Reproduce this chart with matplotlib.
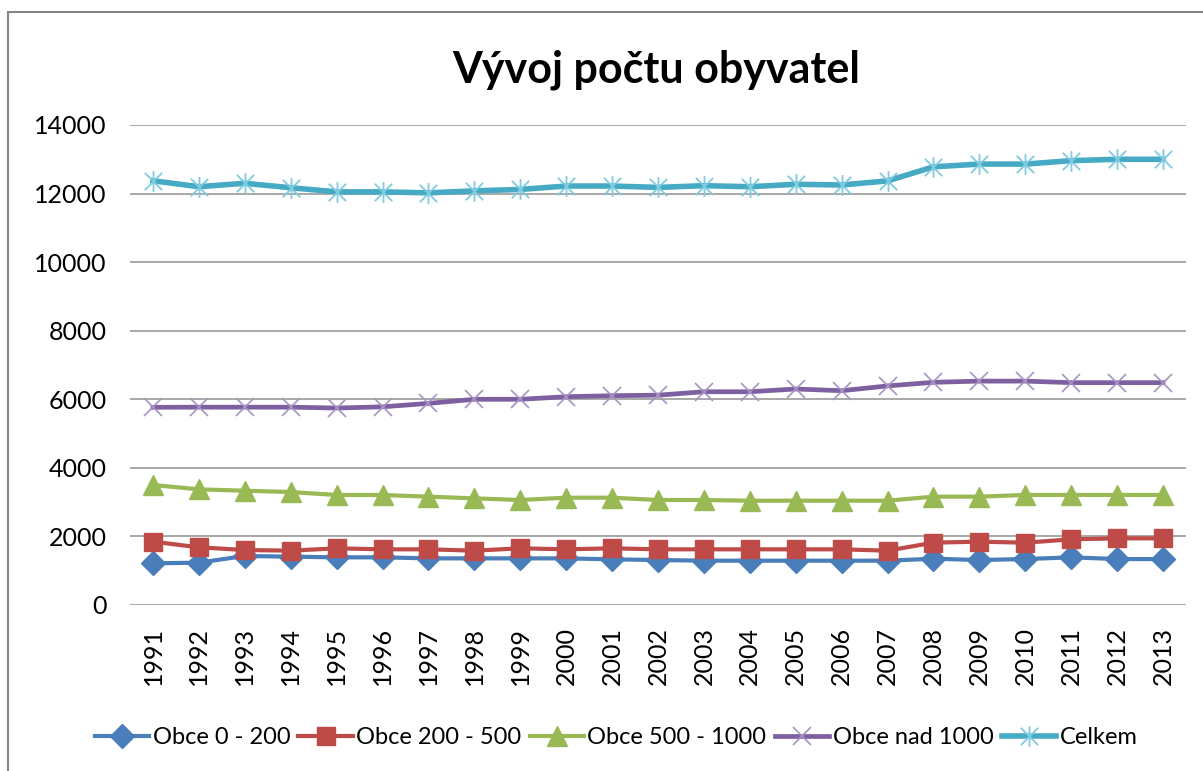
import numpy as np
import matplotlib
matplotlib.use("Agg")
import matplotlib.pyplot as plt
from matplotlib.path import Path
from matplotlib.patches import Rectangle

plt.rcParams['font.family'] = ['Lato', 'DejaVu Sans']

years = [str(y) for y in range(1991, 2014)]

obce_0_200 = [1215, 1235, 1430, 1410, 1390, 1390, 1360, 1360, 1360, 1360, 1332, 1312,
              1293, 1293, 1293, 1293, 1293, 1350, 1312, 1340, 1390, 1340, 1340]
obce_200_500 = [1847, 1682, 1604, 1585, 1653, 1624, 1624, 1585, 1653, 1624, 1653, 1624,
                1624, 1624, 1624, 1624, 1585, 1818, 1847, 1818, 1915, 1944, 1944]
obce_500_1000 = [3500, 3374, 3333, 3295, 3208, 3208, 3160, 3110, 3062, 3130, 3130, 3062,
                 3062, 3042, 3042, 3042, 3042, 3160, 3160, 3210, 3210, 3210, 3210]
obce_nad_1000 = [5766, 5770, 5770, 5770, 5745, 5780, 5880, 6000, 6000, 6075, 6105, 6120,
                 6220, 6220, 6300, 6250, 6390, 6495, 6530, 6530, 6485, 6485, 6485]
celkem = [12374, 12200, 12300, 12170, 12050, 12050, 12020, 12080, 12120, 12220, 12220, 12180,
          12230, 12200, 12270, 12250, 12370, 12780, 12860, 12860, 12960, 13000, 13000]

labels = ["Obce 0 - 200", "Obce 200 - 500", "Obce 500 - 1000", "Obce nad 1000", "Celkem"]

# excel style star marker: an x with a vertical bar through it
star = Path([(-1, -1), (1, 1), (-1, 1), (1, -1), (0, -1.2), (0, 1.2)],
            [Path.MOVETO, Path.LINETO, Path.MOVETO, Path.LINETO, Path.MOVETO, Path.LINETO])

fig = plt.figure(figsize=(12.03, 7.71), dpi=100)
fig.patches.append(Rectangle((8 / 1203, -0.1), 1.2, 1 - 12 / 771 + 0.1, transform=fig.transFigure,
                             fill=False, edgecolor='#868686', linewidth=1.5))

ax = fig.add_axes([130 / 1203, 1 - 605 / 771, 1056 / 1203, 480 / 771])
x = np.arange(len(years))

ax.plot(x, obce_0_200, color='#4A7EBB', lw=3, marker='D', ms=12,
        mec='#4A7EBB', label=labels[0], zorder=3)
ax.plot(x, obce_200_500, color='#BE4B48', lw=3, marker='s', ms=13.5,
        mec='#BE4B48', label=labels[1], zorder=3)
ax.plot(x, obce_500_1000, color='#98B954', lw=3, marker='^', ms=14.5,
        mec='#98B954', label=labels[2], zorder=3)
ax.plot(x, obce_nad_1000, color='#7D60A0', lw=3.4, marker='x', ms=13, mew=1.2,
        mec='#A794C4', label=labels[3], zorder=3)
ax.plot(x, celkem, color='#46AAC5', lw=4, marker=star, ms=15, mew=1.3,
        mec='#7FCBE0', label=labels[4], zorder=3)

ax.set_xlim(-0.5, len(years) - 0.5)
ax.set_ylim(0, 14000)
ax.set_yticks(range(0, 14001, 2000))
ax.set_xticks(x)
ax.set_xticklabels(years, rotation=90)
ax.tick_params(axis='both', length=0, labelsize=18, colors='black')
ax.tick_params(axis='y', pad=17)
ax.tick_params(axis='x', pad=16)
ax.grid(axis='y', color='#9a9a9a', linewidth=1.2)
ax.set_axisbelow(True)
for s in ax.spines.values():
    s.set_visible(False)

fig.text(656 / 1203, 1 - 70 / 771, "Vývoj počtu obyvatel", ha='center', va='center',
         fontsize=31, fontweight='bold')

fig.legend(loc='center', bbox_to_anchor=(616 / 1203, 1 - 738 / 771), ncol=5,
           frameon=False, fontsize=17, handlelength=2.3, handletextpad=0.15,
           columnspacing=0.35)

fig.savefig("out.png", dpi=100, facecolor='white')
